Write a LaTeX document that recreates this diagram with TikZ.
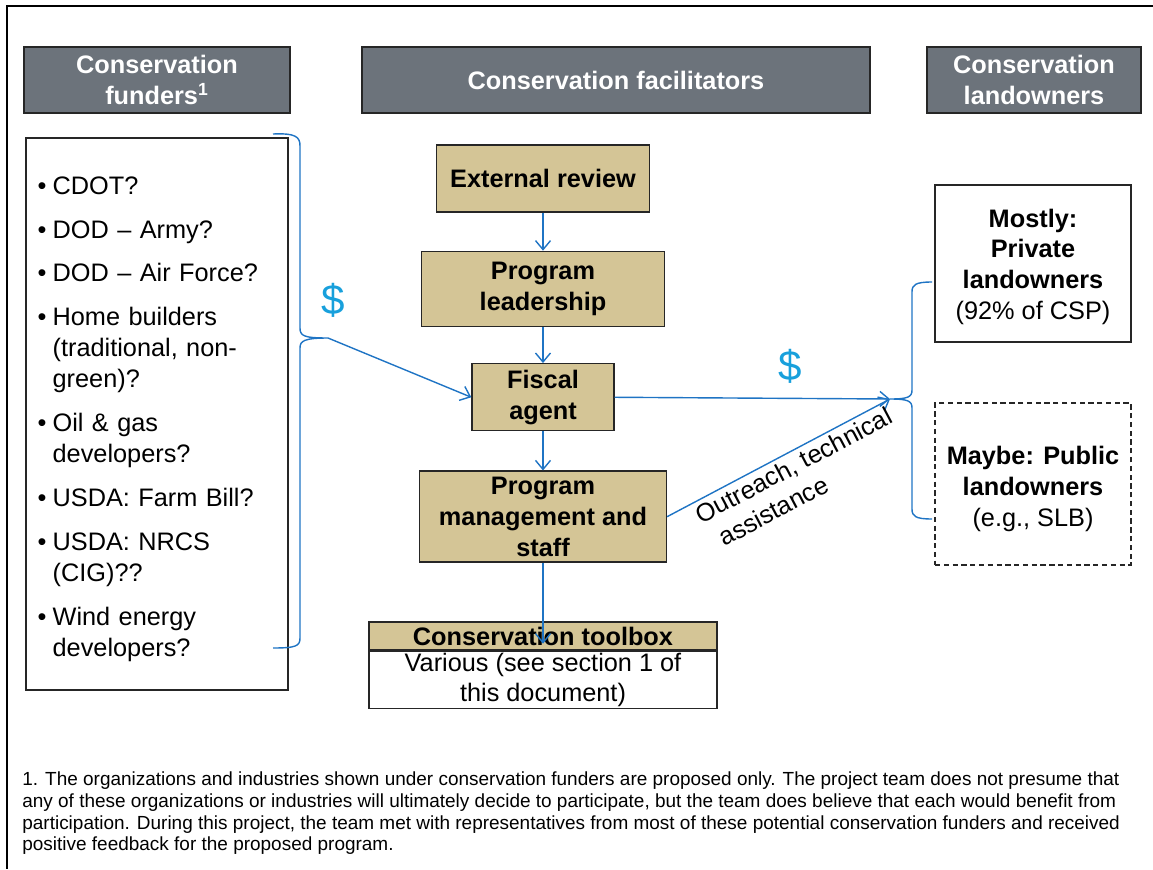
\documentclass[tikz,border=0pt]{standalone}
\usepackage{fontspec}
\setmainfont{Liberation Sans}
\usepackage{tikz}
\usetikzlibrary{positioning}
\usetikzlibrary{arrows.meta}
\definecolor{hdrgrey}{RGB}{108,115,123}
\definecolor{tan}{RGB}{212,197,150}
\definecolor{flowblue}{RGB}{31,116,196}
\definecolor{dollarblue}{RGB}{24,160,220}
\definecolor{boxline}{RGB}{38,38,38}
\newcommand{\slideFont}{\fontsize{14.4}{17.6}\selectfont}
\newcommand{\fundItem}[1]{\par\noindent\hangindent=0.3cm\hangafter=1\makebox[0.3cm][l]{\textbullet}#1}
\tikzstyle{header}=[rectangle,draw=boxline,fill=hdrgrey,text=white,font=\slideFont\bfseries,align=center,minimum height=1.32cm,inner sep=0pt,line width=0.8pt]
\tikzstyle{role}=[rectangle,draw=boxline,fill=tan,font=\slideFont\bfseries,align=center,inner sep=0pt,line width=0.8pt]
\tikzstyle{party}=[rectangle,draw=boxline,align=center,minimum width=3.92cm,inner sep=0pt,line width=0.8pt]
\tikzstyle{flow}=[draw=flowblue,line width=0.8pt,-{Straight Barb[length=1.8mm,width=3mm]}]
\tikzstyle{grouping}=[draw=flowblue,line width=0.8pt]
\tikzstyle{dollar}=[text=dollarblue,font=\fontsize{24}{28}\selectfont,inner sep=0pt]

\begin{document}
\begin{tikzpicture}[x=0.02cm,y=-0.02cm,font=\slideFont]
	\useasboundingbox (0,0) rectangle (1153,869);
	\draw[line width=1.4pt] (1153,6) -- (7,6) -- (7,869);
	
	\node (fundhdr) [header,minimum width=5.32cm] at (157,80) {Conservation\\funders\textsuperscript{1}};
	\node (facilhdr) [header,minimum width=10.16cm] at (616,80) {Conservation facilitators};
	\node (landhdr) [header,minimum width=4.28cm] at (1034,80) {Conservation\\landowners};
	
	\node (funders) [rectangle,draw=boxline,line width=0.8pt,minimum width=5.24cm,minimum height=11.04cm] at (157,414) {};
	\node (fundlist) [anchor=north west,text width=4.76cm,inner sep=0pt,align=left,xshift=0.24cm,yshift=-0.25cm] at (funders.north west)
		{\setlength{\parskip}{7.4pt}%
		\fundItem{CDOT?}
		\fundItem{DOD -- Army?}
		\fundItem{DOD -- Air Force?}
		\fundItem{Home builders\newline(traditional, non-\newline green)?}
		\fundItem{Oil \& gas\newline developers?}
		\fundItem{USDA: Farm Bill?}
		\fundItem{USDA: NRCS\newline(CIG)??}
		\fundItem{Wind energy\newline developers?}\par};
	
	\node (review) [role,minimum width=4.26cm,minimum height=1.34cm] at (543,178.5) {External review};
	\node (lead) [role,minimum width=4.86cm,minimum height=1.5cm,below=0.76cm of review] {Program\\leadership};
	\node (fiscal) [role,minimum width=2.84cm,minimum height=1.34cm,below=0.72cm of lead] {Fiscal\\agent};
	\node (mgmt) [role,minimum width=4.94cm,minimum height=1.82cm,below=0.78cm of fiscal] {Program\\management and\\staff};
	\node (toolhead) [role,minimum width=6.96cm,minimum height=0.56cm,below=1.17cm of mgmt] {Conservation toolbox};
	\node (toolbody) [rectangle,draw=boxline,line width=0.8pt,fill=white,minimum width=6.96cm,minimum height=1.14cm,inner sep=0pt,align=center,below=0pt of toolhead] {Various (see section 1 of\\this document)};
	
	\node (private) [party,minimum height=3.14cm] at (1033,263.5) {\rule{0pt}{0.5cm}\textbf{Mostly:}\\\textbf{Private}\\\textbf{landowners}\\(92\% of CSP)};
	\node (public) [party,dash pattern=on 3pt off 2pt,minimum height=3.24cm] at (1033,484) {\rule{0pt}{0.57cm}\textbf{Maybe: Public}\\\textbf{landowners}\\(e.g., SLB)};
	
	\coordinate (fundtip) at (328,338);
	\coordinate (landtip) at (890,399);
	\node (dollarin) [dollar] at (333,300) {\$};
	\node (dollarout) [dollar] at (790,366) {\$};
	
	\draw[grouping] (273,134) .. controls (296,133) and (300,137) .. (300,146) -- (300,328)
		.. controls (300,336) and (304,338) .. (fundtip)
		.. controls (304,338) and (300,341) .. (300,348) -- (300,638)
		.. controls (300,646) and (296,648) .. (273,648);
	\draw[grouping] (932,282) .. controls (915,282) and (912,285) .. (912,292) -- (912,390)
		.. controls (912,397) and (908,399) .. (landtip)
		.. controls (908,399) and (912,401) .. (912,408) -- (912,509)
		.. controls (912,516) and (915,519) .. (932,519);
	
	\draw[flow] (review) -- (lead);
	\draw[flow] (lead) -- (fiscal);
	\draw[flow] (fiscal) -- (mgmt);
	\draw[flow,shorten >=0.14cm] (mgmt) -- (toolhead.south);
	\draw[flow] (fundtip) -- (fiscal.west);
	\draw[flow] (fiscal.east) -- (landtip);
	\draw[flow] (mgmt.east) -- (landtip)
		node[sloped,anchor=north west,pos=0.09,inner sep=2pt,align=left] {Outreach, technical\\\hspace*{0.2cm}assistance};
	
	\node (footnote) [anchor=north west,inner sep=0pt,align=left,font=\fontsize{10.8}{12.5}\selectfont] at (22,771)
		{1. The organizations and industries shown under conservation funders are proposed only. The project team does not presume that\\
		any of these organizations or industries will ultimately decide to participate, but the team does believe that each would benefit from\\
		participation. During this project, the team met with representatives from most of these potential conservation funders and received\\
		positive feedback for the proposed program.};
\end{tikzpicture}
\end{document}
